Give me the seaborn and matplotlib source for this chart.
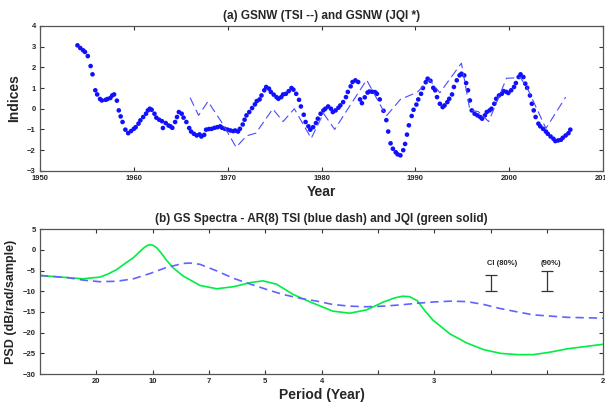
import numpy as np
import pandas as pd
import seaborn as sns
import matplotlib.pyplot as plt

# ---- panel (a): GSNW indices ----
jqi_year = [1954.0, 1954.3, 1954.6, 1954.8, 1955.1, 1955.4, 1955.6, 1955.9, 1956.1, 1956.4,
            1956.6, 1957.0, 1957.2, 1957.5, 1957.7, 1957.9, 1958.2, 1958.4, 1958.6, 1958.8,
            1959.1, 1959.4, 1959.7, 1960.0, 1960.2, 1960.5, 1960.7, 1961.0, 1961.3, 1961.5,
            1961.7, 1961.9, 1962.2, 1962.4, 1962.7, 1963.0, 1963.1, 1963.4, 1963.7, 1963.9,
            1964.1, 1964.4, 1964.6, 1964.8, 1965.1, 1965.3, 1965.6, 1965.9, 1966.1, 1966.4,
            1966.7, 1967.0, 1967.2, 1967.5, 1967.7, 1968.0, 1968.3, 1968.6, 1968.9, 1969.2,
            1969.4, 1969.7, 1970.0, 1970.3, 1970.6, 1970.8, 1971.1, 1971.3, 1971.6, 1971.8,
            1972.0, 1972.3, 1972.6, 1972.9, 1973.1, 1973.4, 1973.6, 1973.9, 1974.1, 1974.4,
            1974.6, 1974.9, 1975.2, 1975.4, 1975.7, 1975.9, 1976.2, 1976.5, 1976.8, 1977.0,
            1977.3, 1977.6, 1977.8, 1978.1, 1978.3, 1978.6, 1978.8, 1979.1, 1979.4, 1979.6,
            1979.9, 1980.2, 1980.4, 1980.7, 1981.0, 1981.2, 1981.5, 1981.8, 1982.0, 1982.3,
            1982.6, 1982.8, 1983.1, 1983.3, 1983.6, 1983.9, 1984.1, 1984.3, 1984.6, 1984.9,
            1985.1, 1985.4, 1985.7, 1985.9, 1986.2, 1986.6, 1986.9, 1987.1, 1987.35, 1987.6,
            1987.9, 1988.1, 1988.4, 1988.7, 1988.9, 1989.1, 1989.3, 1989.6, 1989.8, 1990.1,
            1990.3, 1990.6, 1990.8, 1991.1, 1991.3, 1991.6, 1991.9, 1992.1, 1992.3, 1992.6,
            1992.9, 1993.1, 1993.4, 1993.6, 1993.9, 1994.1, 1994.4, 1994.7, 1994.9, 1995.2,
            1995.4, 1995.6, 1995.8, 1996.0, 1996.3, 1996.6, 1996.9, 1997.1, 1997.4, 1997.6,
            1997.9, 1998.1, 1998.4, 1998.6, 1998.9, 1999.2, 1999.4, 1999.7, 1999.9, 2000.2,
            2000.5, 2000.7, 2001.0, 2001.2, 2001.5, 2001.7, 2001.9, 2002.2, 2002.4, 2002.6,
            2002.8, 2003.1, 2003.3, 2003.6, 2003.9, 2004.1, 2004.4, 2004.7, 2004.9, 2005.2,
            2005.5, 2005.7, 2006.0, 2006.3, 2006.5]
jqi_val = [3.06, 2.93, 2.82, 2.74, 2.54, 2.06, 1.66, 0.89, 0.69, 0.47,
           0.40, 0.43, 0.47, 0.52, 0.64, 0.69, 0.39, -0.08, -0.37, -0.64,
           -1.01, -1.18, -1.08, -0.97, -0.89, -0.72, -0.56, -0.40, -0.24, -0.08,
           0.00, -0.05, -0.24, -0.43, -0.53, -0.60, -0.93, -0.69, -0.81, -0.85,
           -0.92, -0.64, -0.40, -0.16, -0.24, -0.43, -0.64, -0.93, -1.10, -1.21,
           -1.29, -1.24, -1.34, -1.26, -1.01, -0.98, -0.97, -0.92, -0.89, -0.85,
           -0.92, -0.97, -1.01, -1.05, -1.08, -1.05, -1.10, -0.97, -0.76, -0.53,
           -0.32, -0.16, 0.03, 0.21, 0.37, 0.45, 0.64, 0.89, 1.05, 0.97,
           0.81, 0.68, 0.56, 0.48, 0.56, 0.69, 0.72, 0.85, 1.00, 0.92,
           0.72, 0.43, 0.11, -0.29, -0.64, -0.85, -1.01, -0.89, -0.69, -0.48,
           -0.24, -0.08, 0.00, 0.11, 0.00, -0.16, -0.08, 0.05, 0.16, 0.32,
           0.56, 0.81, 1.08, 1.29, 1.37, 1.29, 0.45, 0.27, 0.55, 0.78,
           0.83, 0.82, 0.80, 0.72, 0.45, -0.10, -0.55, -1.10, -1.67, -1.93,
           -2.10, -2.20, -2.25, -2.00, -1.70, -1.25, -0.80, -0.35, -0.05, 0.20,
           0.45, 0.72, 1.00, 1.28, 1.45, 1.35, 1.01, 0.89, 0.56, 0.24,
           0.08, 0.16, 0.32, 0.48, 0.69, 1.05, 1.37, 1.61, 1.69, 1.61,
           1.24, 0.89, 0.40, -0.08, -0.24, -0.32, -0.40, -0.48, -0.32, -0.16,
           -0.08, 0.00, 0.24, 0.48, 0.64, 0.72, 0.85, 0.81, 0.76, 0.89,
           1.05, 1.24, 1.53, 1.66, 1.53, 1.21, 1.01, 0.64, 0.24, -0.08,
           -0.40, -0.72, -0.85, -0.97, -1.10, -1.21, -1.34, -1.45, -1.56, -1.53,
           -1.50, -1.40, -1.29, -1.18, -1.01]

tsi_year = [1966.0, 1966.9, 1967.9, 1969.5, 1970.9, 1972.0, 1973.0, 1974.8, 1975.9, 1977.1,
            1978.9, 1980.2, 1981.4, 1982.5, 1984.8, 1986.9, 1988.4, 1990.2, 1991.5, 1992.6,
            1994.9, 1995.8, 1996.7, 1997.8, 1999.7, 2001.2, 2002.0, 2003.9, 2006.0]
tsi_val = [0.53, -0.32, 0.35, -0.75, -1.86, -1.31, -1.18, -0.01, -0.62, 0.0,
           -1.43, -0.22, -1.0, -0.22, 1.39, -0.35, 0.45, 0.8, 1.39, 0.77,
           2.2, -0.06, -0.14, -0.62, 1.47, 1.5, 0.91, -0.95, 0.56]

# ---- panel (b): AR(8) spectra, x = frequency (cycles/yr) ----
jqi_freq = [0.0, 0.024, 0.038, 0.053, 0.06, 0.068, 0.075, 0.083, 0.088, 0.092,
            0.095, 0.098, 0.101, 0.104, 0.108, 0.112, 0.118, 0.127, 0.142, 0.157,
            0.172, 0.187, 0.198, 0.21, 0.225, 0.24, 0.26, 0.275, 0.29, 0.305,
            0.315, 0.322, 0.328, 0.335, 0.342, 0.349, 0.364, 0.379, 0.394, 0.409,
            0.424, 0.438, 0.453, 0.468, 0.5]
jqi_psd = [-6.2, -6.7, -7.0, -6.6, -5.9, -4.8, -3.4, -1.9, -0.6, 0.4,
           1.0, 1.25, 1.0, 0.4, -0.9, -2.4, -4.3, -6.3, -8.6, -9.4,
           -8.9, -7.9, -7.5, -8.3, -10.8, -12.6, -14.8, -15.3, -14.5, -12.6,
           -11.6, -11.2, -11.3, -12.3, -14.8, -17.0, -20.3, -22.5, -24.1, -25.0,
           -25.3, -25.3, -24.7, -23.9, -22.8]

tsi_freq = [0.0, 0.024, 0.038, 0.053, 0.068, 0.083, 0.098, 0.112, 0.127, 0.133,
            0.142, 0.157, 0.172, 0.187, 0.201, 0.216, 0.231, 0.246, 0.26, 0.275,
            0.29, 0.305, 0.32, 0.335, 0.349, 0.364, 0.379, 0.394, 0.409, 0.424,
            0.438, 0.453, 0.468, 0.5]
tsi_psd = [-6.2, -6.7, -7.3, -7.7, -7.6, -7.0, -5.7, -4.3, -3.3, -3.2,
           -3.5, -5.1, -6.9, -8.3, -9.55, -10.8, -11.7, -12.4, -13.2, -13.6,
           -13.75, -13.6, -13.3, -12.9, -12.6, -12.4, -12.5, -13.2, -14.2, -15.0,
           -15.7, -16.0, -16.3, -16.5]

ci_freq = [0.4, 0.45]
ci_low = [-10, -10]
ci_high = [-6, -5]
ci_text = ['CI (80%)', '(90%)']
ci_text_x = [0.41, 0.454]

period_ticks = [0.05, 0.1, 0.15, 0.2, 0.25, 0.3, 0.35, 0.4, 0.45, 0.5]
period_labels = ['20', '10', '7', '5', '4', '', '3', '', '', '2']

sns.set_theme(style='ticks')
plt.rcParams['font.family'] = ['Liberation Sans', 'DejaVu Sans']
plt.rcParams['font.weight'] = 'bold'

fig = plt.figure(figsize=(6.05, 4.04), dpi=100)
ax1 = fig.add_axes([0.066, 0.577, 0.931, 0.359])
ax2 = fig.add_axes([0.066, 0.074, 0.931, 0.359])

df_jqi = pd.DataFrame({'year': jqi_year, 'val': jqi_val})
df_tsi = pd.DataFrame({'year': tsi_year, 'val': tsi_val})
sns.lineplot(data=df_tsi, x='year', y='val', ax=ax1, color='#4a4aff', lw=0.8,
             sort=False, estimator=None, linestyle=(0, (8, 4)))
sns.scatterplot(data=df_jqi, x='year', y='val', ax=ax1, color='#1010ff',
                s=11, edgecolor='none')

ax1.set_xlim(1950, 2010)
ax1.set_ylim(-3, 4)
ax1.set_xticks(range(1950, 2011, 10))
ax1.set_yticks(range(-3, 5))
ax1.set_title('(a) GSNW (TSI --) and GSNW (JQI *)', fontsize=8.5, fontweight='bold', pad=5)
ax1.set_xlabel('Year', fontsize=10, fontweight='bold', labelpad=2)
ax1.set_ylabel('Indices', fontsize=10, fontweight='bold', labelpad=4)

df_js = pd.DataFrame({'f': jqi_freq, 'psd': jqi_psd})
df_ts = pd.DataFrame({'f': tsi_freq, 'psd': tsi_psd})
sns.lineplot(data=df_js, x='f', y='psd', ax=ax2, color='#00ee44', lw=1.2,
             sort=False, estimator=None)
sns.lineplot(data=df_ts, x='f', y='psd', ax=ax2, color='#6262ff', lw=1.2,
             sort=False, estimator=None, linestyle=(0, (5, 3)))
for f, lo, hi in zip(ci_freq, ci_low, ci_high):
    ax2.errorbar([f], [(lo + hi) / 2], yerr=[(hi - lo) / 2], color='#333333',
                 lw=0.9, capsize=4, capthick=0.9)
for tx, t in zip(ci_text_x, ci_text):
    ax2.text(tx, -3.3, t, ha='center', va='center', fontsize=5.5, fontweight='bold')

ax2.set_xlim(0, 0.5)
ax2.set_ylim(-30, 5)
ax2.set_xticks(period_ticks)
ax2.set_xticklabels(period_labels)
ax2.set_yticks(range(-30, 6, 5))
ax2.set_title('(b) GS Spectra - AR(8) TSI (blue dash) and JQI (green solid)',
              fontsize=8.5, fontweight='bold', pad=5)
ax2.set_xlabel('Period (Year)', fontsize=10, fontweight='bold', labelpad=2)
ax2.set_ylabel('PSD (dB/rad/sample)', fontsize=9, fontweight='bold', labelpad=4)

for ax in (ax1, ax2):
    ax.tick_params(direction='in', top=True, right=True, length=3, width=0.8,
                   labelsize=5.5, pad=3, color='#333333')
    for s in ax.spines.values():
        s.set_color('#555555')
        s.set_linewidth(0.9)
    for lab in ax.get_xticklabels() + ax.get_yticklabels():
        lab.set_fontweight('bold')

fig.savefig('out.png', dpi=100)
